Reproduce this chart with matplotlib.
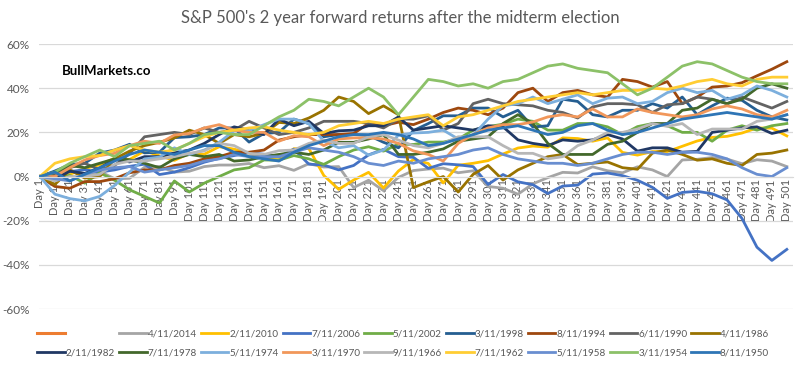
import matplotlib
matplotlib.use('Agg')
import matplotlib.pyplot as plt
from matplotlib.lines import Line2D
from matplotlib.ticker import FuncFormatter

# dias de negociação (a cada 10 dias) e rótulos do eixo x
days = list(range(1, 502, 10))
tick_labels = ['Day %d' % d for d in days]

# retornos acumulados (%), um valor a cada 10 dias
r2014 = [0, 2.0, 3.1, 0.0, 2.3, -1.0, -0.8, 4.2, 4.6, 2.0, 2.4, 4.5, 5.2, 5.2, 5.9, 4.0, 4.9, 2.8, 5.8, 4.3,
         4.5, -5.0, -1.7, -6.4, -0.4, 2.7, 3.4, 3.8, 1.7, 2.6, -4.5, -5.3, -8.0, -3.3, -0.5, 1.9, 1.6, 4.4, 2.6, 1.7,
         4.4, 3.0, 0.0, 7.5, 7.8, 8.6, 7.9, 5.8, 7.6, 7.0, 4.5]
r2010 = [0, -1.3, 1.0, 3.6, 5.3, 8.3, 7.7, 11.6, 9.4, 7.3, 10.5, 10.1, 13.5, 12.4, 10.6, 8.0, 7.6, 12.6, 12.7, 0.5,
         -5.8, -1.6, 1.9, -5.2, 2.5, 7.7, 5.9, -2.9, 5.1, 6.0, 7.2, 10.2, 12.9, 13.8, 13.3, 17.5, 17.2, 16.0, 17.5, 10.9,
         9.7, 11.3, 11.3, 13.7, 16.1, 17.7, 18.2, 19.7, 22.0, 21.9, 18.4]
r2006 = [0, 1.4, 2.2, 3.1, 2.0, 3.0, 4.6, 5.6, 0.9, 2.0, 4.0, 6.5, 8.2, 9.5, 10.8, 10.1, 8.9, 12.4, 5.6, 5.2,
         3.0, 5.0, 9.8, 12.3, 9.0, 8.7, 3.7, 5.8, 5.3, 4.5, -3.6, 0.9, -2.4, -3.7, -7.7, -4.3, -3.9, 1.1, 1.6, 0.4,
         -1.7, -4.9, -9.9, -7.2, -6.7, -7.8, -10.6, -19.0, -32.0, -38.0, -33.0]
r2002 = [0, -0.5, 0.5, -3.0, 1.7, -1.7, -6.0, -9.0, -12.0, -2.0, -7.0, -3.0, 0.0, 3.0, 4.0, 7.5, 7.4, 9.5, 8.0, 5.5,
         9.0, 12.0, 13.5, 11.5, 14.7, 14.5, 15.6, 15.6, 17.0, 21.0, 22.6, 23.7, 26.0, 25.0, 21.0, 21.0, 24.0, 24.0, 22.5, 19.0,
         22.6, 24.0, 23.0, 20.0, 20.0, 16.0, 21.0, 23.0, 21.0, 23.0, 24.0]
r1998 = [0, 2.5, 5.4, 6.0, 10.6, 12.0, 14.6, 10.7, 11.0, 17.6, 18.0, 19.0, 22.0, 22.0, 15.6, 19.5, 20.0, 26.0, 24.0, 18.0,
         19.0, 19.0, 18.6, 15.5, 13.0, 20.8, 24.0, 27.5, 27.5, 31.0, 31.0, 27.0, 30.0, 22.4, 23.0, 35.0, 34.0, 28.0, 27.0, 30.0,
         30.0, 33.0, 31.0, 36.0, 28.0, 32.0, 35.5, 34.5, 30.0, 27.0, 25.6]
r1994 = [0, -4.5, -5.3, -2.3, -2.3, -1.0, 1.7, 3.0, 3.0, 5.0, 6.0, 8.0, 9.0, 11.0, 11.0, 12.0, 16.5, 18.0, 19.0, 19.0,
         19.0, 19.5, 24.0, 23.0, 24.6, 23.5, 26.0, 29.0, 31.0, 30.0, 28.0, 31.0, 38.0, 40.0, 34.0, 38.0, 39.0, 37.0, 36.0, 44.0,
         43.0, 40.5, 43.0, 33.0, 36.0, 40.5, 41.0, 42.5, 45.6, 48.6, 52.0]
r1990 = [0, 1.0, 4.0, 6.0, 3.0, 5.0, 10.4, 18.0, 19.0, 20.0, 19.0, 22.0, 20.0, 21.0, 25.0, 22.0, 19.0, 20.0, 22.0, 25.0,
         25.0, 25.0, 24.0, 22.0, 26.0, 26.0, 27.5, 21.0, 24.0, 33.0, 35.0, 33.0, 32.5, 32.0, 30.0, 29.0, 26.5, 31.5, 33.0, 33.0,
         32.5, 29.0, 32.5, 33.0, 36.0, 35.0, 33.0, 36.0, 33.5, 31.0, 34.0]
r1986 = [0, -3.6, 3.0, -0.7, 0.0, 8.0, 11.5, 14.0, 15.5, 17.5, 21.0, 19.0, 15.0, 19.0, 18.0, 19.6, 24.5, 24.0, 26.5, 30.0,
         36.0, 34.0, 28.5, 32.0, 28.0, -5.0, -2.4, 0.0, -7.0, 1.0, 5.0, -1.6, 3.0, 6.0, 9.0, 10.0, 5.4, 6.0, 6.6, 4.0,
         3.3, 10.6, 12.0, 10.0, 7.4, 8.0, 6.0, 5.0, 10.0, 10.6, 12.0]
r1982 = [0, -1.0, 2.4, 1.4, 3.8, 8.0, 6.6, 9.0, 9.0, 10.7, 12.0, 15.0, 19.0, 22.5, 21.0, 19.0, 26.0, 23.0, 25.0, 19.5,
         20.7, 21.0, 23.0, 23.0, 27.0, 21.0, 22.0, 23.0, 22.0, 21.0, 23.0, 22.5, 16.6, 15.0, 14.0, 16.6, 16.0, 16.6, 19.0, 17.0,
         11.5, 13.0, 13.0, 11.0, 11.4, 20.0, 21.0, 22.0, 22.5, 19.5, 21.0]
r1978 = [0, 2.0, 5.0, 4.0, 6.0, 8.0, 7.6, 6.0, 4.0, 8.0, 10.0, 9.0, 10.0, 7.0, 7.5, 9.0, 10.0, 11.0, 10.0, 12.0,
         15.5, 15.5, 17.0, 19.0, 10.0, 10.0, 11.0, 12.5, 16.0, 17.0, 18.0, 24.0, 28.0, 24.0, 15.0, 10.0, 10.0, 10.0, 14.6, 16.0,
         20.0, 24.0, 24.0, 30.0, 31.0, 35.0, 33.0, 35.0, 40.0, 42.0, 40.0]
r1974 = [0, -8.0, -10.0, -11.0, -9.0, -4.0, 2.0, 8.0, 8.8, 13.0, 10.0, 12.0, 15.5, 20.7, 20.8, 23.5, 26.0, 26.0, 24.0, 16.0,
         13.0, 14.0, 9.7, 12.0, 18.7, 19.7, 20.0, 21.0, 17.0, 18.7, 26.0, 32.0, 33.0, 36.0, 33.0, 35.0, 37.0, 33.0, 35.5, 36.0,
         33.0, 34.0, 38.0, 40.0, 38.0, 39.0, 35.0, 37.0, 41.0, 39.0, 36.0]
r1970 = [0, 0.0, 4.0, 7.5, 9.5, 10.5, 14.0, 16.0, 15.0, 18.8, 19.5, 22.0, 23.5, 21.0, 20.0, 20.0, 16.0, 18.5, 18.0, 14.0,
         17.0, 17.5, 17.5, 17.0, 15.0, 11.6, 10.0, 7.0, 15.0, 19.0, 22.0, 23.5, 23.5, 24.7, 27.0, 28.0, 27.0, 30.6, 27.0, 27.0,
         30.6, 29.0, 28.0, 27.0, 28.0, 30.6, 32.0, 30.6, 28.0, 27.0, 30.0]
r1966 = [0, -2.0, 0.0, 0.0, 1.0, 5.5, 7.0, 7.0, 8.0, 9.0, 10.5, 11.6, 15.0, 14.0, 10.5, 10.0, 11.7, 12.0, 15.0, 16.5,
         15.0, 15.0, 18.0, 19.0, 16.5, 14.0, 13.0, 15.0, 18.0, 18.0, 18.0, 14.0, 10.5, 10.5, 8.0, 9.0, 14.0, 16.5, 20.0, 20.0,
         21.5, 24.0, 22.7, 24.0, 19.0, 21.5, 21.5, 21.5, 25.0, 26.0, 28.0]
r1962 = [0, 6.0, 8.0, 9.0, 9.5, 12.0, 14.0, 12.0, 11.0, 12.0, 15.0, 18.0, 20.0, 21.0, 22.0, 22.5, 21.0, 20.0, 19.0, 20.0,
         23.0, 24.0, 25.0, 24.0, 26.0, 27.0, 28.0, 23.0, 27.0, 28.0, 30.0, 32.0, 34.0, 35.0, 36.0, 37.0, 38.0, 37.0, 38.0, 39.0,
         39.0, 40.0, 39.5, 41.0, 43.0, 44.0, 42.0, 41.0, 44.0, 45.0, 45.0]
r1958 = [0, -1.0, -2.0, 1.0, 3.0, 4.0, 4.5, 2.0, 3.0, 4.0, 5.0, 7.0, 8.0, 10.0, 9.0, 9.0, 9.0, 11.0, 13.0, 12.0,
         11.0, 9.0, 6.0, 5.0, 7.0, 6.0, 8.0, 9.0, 10.0, 12.0, 13.0, 10.0, 8.0, 7.0, 6.0, 6.0, 5.0, 6.0, 8.0, 10.0,
         11.0, 11.0, 10.0, 11.0, 11.0, 10.0, 8.0, 4.0, 1.0, 0.0, 4.0]
r1954 = [0, 2.0, 6.0, 9.0, 12.0, 9.0, 14.0, 15.0, 16.0, 12.0, 15.0, 19.0, 20.0, 19.0, 19.0, 23.0, 27.0, 30.0, 35.0, 34.0,
         32.0, 36.0, 40.0, 36.0, 28.0, 36.0, 44.0, 43.0, 41.0, 42.0, 40.0, 43.0, 44.0, 47.0, 50.0, 51.0, 49.0, 48.0, 47.0, 42.0,
         37.0, 40.0, 45.0, 50.0, 52.0, 51.0, 48.0, 45.0, 43.0, 42.0, 42.0]
r1950 = [0, 2.0, -2.0, 1.0, 4.0, 7.0, 10.0, 12.0, 11.0, 10.0, 12.0, 14.0, 14.0, 11.0, 9.0, 8.0, 7.0, 11.0, 14.0, 16.0,
         18.0, 19.0, 19.0, 20.0, 19.0, 17.0, 14.0, 15.0, 17.0, 19.0, 21.0, 22.0, 23.0, 21.0, 19.0, 20.0, 23.0, 24.0, 21.0, 19.0,
         20.0, 22.0, 24.0, 26.0, 27.0, 28.0, 29.0, 28.0, 27.0, 26.0, 28.0]

labels = ['4/11/2014', '2/11/2010', '7/11/2006', '5/11/2002', '3/11/1998', '8/11/1994', '6/11/1990', '4/11/1986',
          '2/11/1982', '7/11/1978', '5/11/1974', '3/11/1970', '9/11/1966', '7/11/1962', '5/11/1958', '3/11/1954',
          '8/11/1950']
valores = [r2014, r2010, r2006, r2002, r1998, r1994, r1990, r1986, r1982, r1978, r1974, r1970, r1966, r1962,
           r1958, r1954, r1950]
cores = ['#A5A5A5', '#FFC000', '#4472C4', '#70AD47', '#255E91', '#9E480E', '#636363', '#997300',
         '#203864', '#43682B', '#7CAFDD', '#F1975A', '#B7B7B7', '#FFCD33', '#698ED0', '#8CC168', '#2E75B6']

plt.rcParams['font.family'] = ['Lato', 'DejaVu Sans']
cinza = '#595959'

fig = plt.figure(figsize=(8, 3.67), dpi=100)
ax = fig.add_axes([0.049, 0.158, 0.942, 0.722])

handles = [Line2D([], [], color='#ED7D31', lw=2.2)]
for lab, cor, val in zip(labels, cores, valores):
    h, = ax.plot(days, val, color=cor, lw=2.0, solid_joinstyle='round', label=lab)
    handles.append(h)

ax.set_xlim(0.5, 505)
ax.set_ylim(-60, 60)
ax.set_yticks(range(-60, 61, 20))
ax.yaxis.set_major_formatter(FuncFormatter(lambda v, p: '%d%%' % v))
ax.yaxis.grid(True, color='#D9D9D9', lw=0.9)
ax.set_axisbelow(True)
for s in ['top', 'right', 'left']:
    ax.spines[s].set_visible(False)
ax.spines['bottom'].set_position(('data', 0))
ax.spines['bottom'].set_color('#D9D9D9')

ax.set_xticks(days)
ax.set_xticklabels(tick_labels, rotation=90, va='top', ha='center')
ax.tick_params(axis='x', length=0, pad=2, labelsize=8, labelcolor=cinza)
ax.tick_params(axis='y', length=0, pad=7, labelsize=8.5, labelcolor=cinza)

fig.text(0.5, 0.951, "S&P 500's 2 year forward returns after the midterm election",
         ha='center', va='center', fontsize=12, color=cinza)
fig.text(0.0775, 0.807, 'BullMarkets.co', ha='left', va='center', fontsize=9.5,
         fontweight='bold', color='black')

# legenda em 2 linhas (matplotlib preenche por coluna)
nomes = [''] + labels
linha1 = list(range(0, 9))
linha2 = list(range(9, 18))
ordem = []
for a, b in zip(linha1, linha2):
    ordem += [a, b]
fig.legend([handles[i] for i in ordem], [nomes[i] for i in ordem], ncol=9, loc='center',
           bbox_to_anchor=(0.504, 0.064), frameon=False, fontsize=7.1, labelcolor=cinza,
           handlelength=2.8, handletextpad=0.1, columnspacing=0.4, labelspacing=1.05)

fig.savefig('out.png', dpi=100)
